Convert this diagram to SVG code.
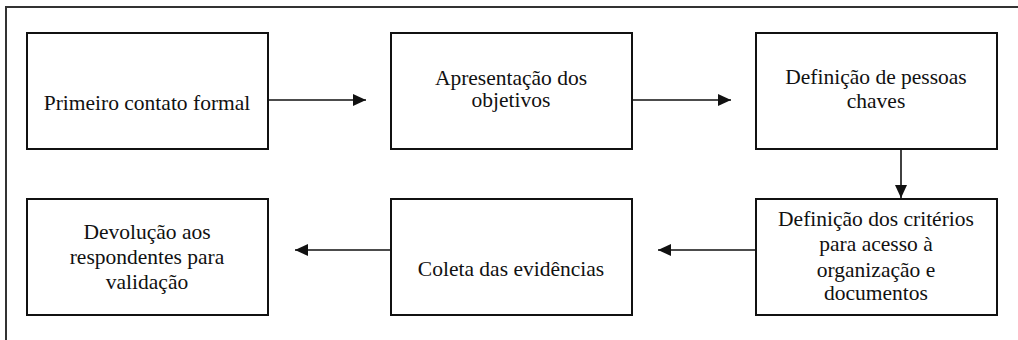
<svg xmlns="http://www.w3.org/2000/svg" width="1018" height="340" viewBox="0 0 1018 340" font-family="Liberation Serif, Times New Roman, DejaVu Serif, serif">
<style>
.box{fill:#fff;stroke:#111;stroke-width:2}
.lbl{font-size:21.5px;fill:#111;text-anchor:middle}
.conn{stroke:#111;stroke-width:1.6;fill:none;marker-end:url(#ah)}
.frame{stroke:#333;stroke-width:2;fill:none}
</style>
<defs>
<marker id="ah" markerUnits="userSpaceOnUse" markerWidth="14" markerHeight="12" refX="13" refY="6" orient="auto">
<path d="M0,0 L13,6 L0,12 Z" fill="#111"/>
</marker>
</defs>
<rect width="1018" height="340" fill="#fff"/>
<path class="frame" d="M6,340 V7 H1018"/>
<g id="n1"><rect class="box" x="27" y="33" width="241" height="116"/><text class="lbl" x="147" y="110">Primeiro contato formal</text></g>
<g id="n2"><rect class="box" x="391" y="33" width="241" height="116"/><text class="lbl" x="511" y="85">Apresentação dos</text><text class="lbl" x="511" y="107">objetivos</text></g>
<g id="n3"><rect class="box" x="756" y="33" width="241" height="116"/><text class="lbl" x="876" y="84">Definição de pessoas</text><text class="lbl" x="876" y="108">chaves</text></g>
<g id="n4"><rect class="box" x="756" y="199" width="241" height="116"/><text class="lbl" x="876" y="226">Definição dos critérios</text><text class="lbl" x="876" y="251">para acesso à</text><text class="lbl" x="876" y="277">organização e</text><text class="lbl" x="876" y="300">documentos</text></g>
<g id="n5"><rect class="box" x="391" y="199" width="241" height="116"/><text class="lbl" x="511" y="276">Coleta das evidências</text></g>
<g id="n6"><rect class="box" x="27" y="199" width="241" height="116"/><text class="lbl" x="147" y="239">Devolução aos</text><text class="lbl" x="147" y="264">respondentes para</text><text class="lbl" x="147" y="289">validação</text></g>
<g id="connectors">
<line class="conn" x1="268" y1="100" x2="366" y2="100"/>
<line class="conn" x1="632" y1="100" x2="731" y2="100"/>
<line class="conn" x1="901" y1="149" x2="901" y2="198"/>
<line class="conn" x1="756" y1="250" x2="658" y2="250"/>
<line class="conn" x1="391" y1="250" x2="295" y2="250"/>
</g>
</svg>
